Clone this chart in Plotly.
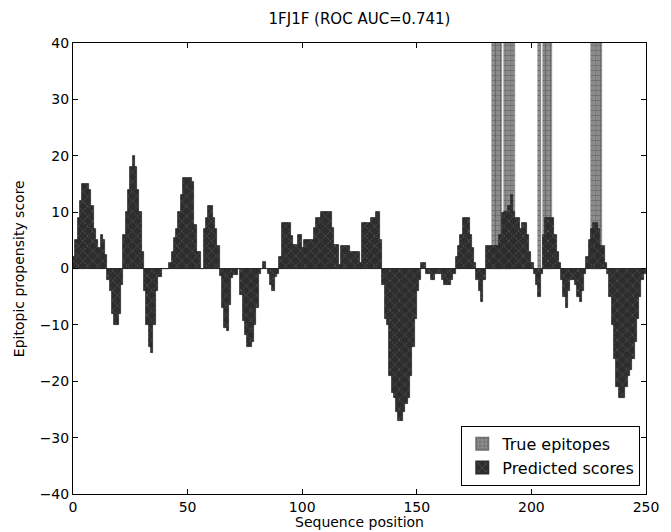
import plotly.graph_objects as go

# ---- data ----
predicted_scores = [
    2, 5, 9, 12, 15, 15, 15, 14, 11, 7,
    5, 3.6, 6, 5, 2.4, -2, -4, -8, -10, -10,
    -8, -3, 6, 10, 14, 18, 20, 18, 14, 10,
    3, -4, -10, -14, -15, -10, -4, -1.5, -1.5, 0,
    0, 0, 1, 3, 5.4, 7, 10, 13, 16, 16,
    16, 16, 15.4, 7.7, 3, 3, 0, 7, 9, 11,
    11, 9, 7, 4, -1.4, -7, -10.6, -11, -6.4, -1.7,
    -1.1, -1.1, 0, -4.7, -9.4, -11.8, -14, -14, -13, -10,
    -7, -1, 0, 1.1, 0, -1, -3, -4, -1.5, -1,
    2, 8, 8, 8, 8, 5.7, 4.2, 4.2, 6, 6,
    3.6, 5, 5, 5, 5, 7.2, 8.9, 8.9, 10, 10,
    10, 10, 10, 7.2, 4.2, 4.2, 0.6, 4, 4, 4,
    4, 3, 3, 3, 3, 1, 8, 8, 8, 8,
    9, 9, 10, 10, 5, -3, -9, -10, -19, -22,
    -23, -25.5, -27, -27, -25.5, -24, -23, -19, -14, -9,
    -4, -2, 1, 1, -1, -1, -2, -2, -1, -1,
    -1, -2, -3, -3, -3, -2, -1, 2, 4, 6,
    9, 9, 9, 6, 3.6, 1, -2, -4, -6, -2,
    4, 4, 4, 4, 4, 4, 6, 9.8, 10, 10,
    11, 13, 10, 9, 9, 7, 8, 8, 6, 3,
    1, -1, -3, -5, -1, 6, 9, 9, 9, 9,
    6, 3, 1, -2, -5, -7, -4, -2, -2, -3,
    -5, -6, -4, -1, 2, 5, 7, 8, 8, 7,
    4, 4, 1, -1, -5, -10, -16, -21, -23, -23,
    -23, -21, -19, -18, -16, -13, -9, -5, -2, -1,
]
positions = list(range(len(predicted_scores)))

epitope_positions = [183, 184, 185, 186, 188, 189, 190, 191, 192,
                     203, 205, 206, 207, 208,
                     226, 227, 228, 229, 230]
epitope_height = 40

x_ticks = [0, 50, 100, 150, 200, 250]
y_ticks = [-40, -30, -20, -10, 0, 10, 20, 30, 40]

title_text = "1FJ1F (ROC AUC=0.741)"
x_label = "Sequence position"
y_label = "Epitopic propensity score"

FONT = "DejaVu Sans"
W, H = 663, 524  # page body has an 8px margin in the viewer

fig = go.Figure()

fig.add_trace(go.Bar(
    x=epitope_positions,
    y=[epitope_height] * len(epitope_positions),
    width=1, offset=0,
    name="True epitopes",
    marker=dict(
        color="#8c8c8c",
        line=dict(color="#707070", width=0.5),
        pattern=dict(shape="+", fillmode="replace", bgcolor="#909090",
                     fgcolor="#5a5a5a", size=5, solidity=0.25),
    ),
))

fig.add_trace(go.Bar(
    x=positions,
    y=predicted_scores,
    width=1, offset=0,
    name="Predicted scores",
    marker=dict(
        color="#2c2c2c",
        line=dict(color="#2c2c2c", width=0.8),
        pattern=dict(shape="x", fillmode="replace", bgcolor="#2c2c2c",
                     fgcolor="#5e5e5e", size=7, solidity=0.2),
    ),
))

fig.update_layout(
    width=W, height=H,
    margin=dict(l=65, r=18, t=35, b=38),
    paper_bgcolor="white", plot_bgcolor="white",
    barmode="overlay", bargap=0,
    font=dict(family=FONT, size=14, color="black"),
    title=dict(text=title_text, x=0.5, xref="paper", xanchor="center",
               y=1 - 11 / H, yref="container", yanchor="middle",
               font=dict(family=FONT, size=15, color="black")),
    legend=dict(x=0.99, y=0.018, xanchor="right", yanchor="bottom",
                bgcolor="white", bordercolor="black", borderwidth=1,
                font=dict(family=FONT, size=16, color="black"),
                tracegroupgap=0, itemsizing="constant"),
    showlegend=True,
)

fig.update_xaxes(range=[0, 250], tickvals=x_ticks, ticks="inside", ticklen=5,
                 tickcolor="black", showline=True, linecolor="black", linewidth=1,
                 mirror="allticks", showgrid=False, zeroline=False,
                 tickfont=dict(family=FONT, size=14, color="black"))
fig.update_yaxes(range=[-40, 40], tickvals=y_ticks, ticks="inside", ticklen=5,
                 tickcolor="black", showline=True, linecolor="black", linewidth=1,
                 mirror="allticks", showgrid=False, zeroline=True,
                 zerolinecolor="#222222", zerolinewidth=1,
                 tickfont=dict(family=FONT, size=14, color="black"))

fig.add_annotation(text=y_label, xref="paper", yref="paper",
                   x=(18 - 73) / 580, y=0.5, xanchor="center", yanchor="middle",
                   textangle=-90, showarrow=False,
                   font=dict(family=FONT, size=14, color="black"))
fig.add_annotation(text=x_label, xref="paper", yref="paper",
                   x=0.5, y=(494 - 513) / 451, xanchor="center", yanchor="top",
                   showarrow=False, borderpad=0,
                   font=dict(family=FONT, size=14, color="black"))

fig.write_html("out.html")
